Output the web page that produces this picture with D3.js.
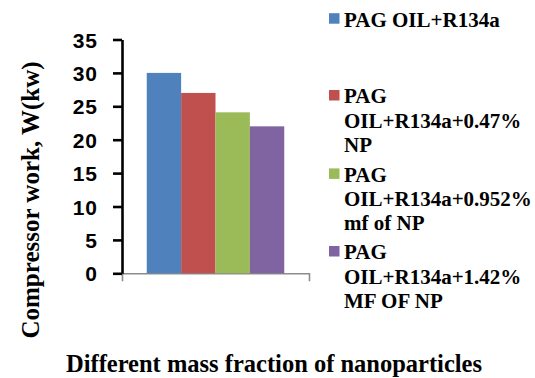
<!DOCTYPE html>
<html>
<head>
<meta charset="utf-8">
<script src="https://cdn.jsdelivr.net/npm/d3@7"></script>
<style>
  html, body { margin: 0; padding: 0; background: #fff; }
  svg { display: block; }
</style>
</head>
<body>
<svg id="chart" width="535" height="378"></svg>
<script>
// Compressor work for each oil / refrigerant / nanoparticle blend
const categories = [""];
const seriesNames = [
  "PAG OIL+R134a",
  "PAG OIL+R134a+0.47% NP",
  "PAG OIL+R134a+0.952% mf of NP",
  "PAG OIL+R134a+1.42% MF OF NP"
];
const seriesValues = [30, 27, 24.1, 22];
const legendLines = [
  ["PAG OIL+R134a"],
  ["PAG", "OIL+R134a+0.47%", "NP"],
  ["PAG", "OIL+R134a+0.952%", "mf of NP"],
  ["PAG", "OIL+R134a+1.42%", "MF OF NP"]
];
const yTicks = [0, 5, 10, 15, 20, 25, 30, 35];
const colors = ["#4F81BD", "#C0504D", "#9BBB59", "#8064A2"];

const SERIF = "Liberation Serif";
const SANS = "Liberation Sans";

const svg = d3.select("#chart");

const plot = { left: 122, right: 309, top: 39.5, bottom: 273.3 };

const y = d3.scaleLinear().domain([0, 35]).range([plot.bottom, plot.top]);
const x0 = d3.scaleBand().domain(categories).range([plot.left, plot.right]).padding(0);
const x1 = d3.scaleBand().domain(seriesNames).range([0, x0.bandwidth()])
  .paddingInner(0).paddingOuter(0.72);

// category axis (grey, with end ticks)
const xAxis = svg.append("g")
  .attr("transform", `translate(0,${plot.bottom})`)
  .call(d3.axisBottom(x0).tickValues([]).tickSizeOuter(8));
xAxis.select(".domain").attr("stroke", "#8c8c8c").attr("stroke-width", 1.6);

// bars
svg.append("g")
  .selectAll("g")
  .data(categories)
  .join("g")
  .attr("transform", d => `translate(${x0(d)},0)`)
  .selectAll("rect")
  .data(() => seriesNames.map((s, i) => ({ s, v: seriesValues[i], c: colors[i] })))
  .join("rect")
  .attr("x", d => x1(d.s))
  .attr("width", x1.bandwidth())
  .attr("y", d => y(d.v))
  .attr("height", d => y(0) - y(d.v))
  .attr("fill", d => d.c);

// value axis
const yAxis = svg.append("g")
  .attr("transform", `translate(${plot.left},0)`)
  .call(d3.axisLeft(y).tickValues(yTicks).tickSize(9).tickSizeOuter(0).tickPadding(15));
yAxis.attr("font-family", SANS).attr("font-size", 21).attr("font-weight", "bold");
yAxis.select(".domain").attr("stroke", "#000").attr("stroke-width", 2.6);
yAxis.selectAll(".tick line").attr("stroke", "#000").attr("stroke-width", 2.6);
yAxis.selectAll(".tick text")
  .attr("fill", "#000")
  .attr("letter-spacing", 1)
  .attr("dy", "0.36em");

// axis titles
svg.append("text")
  .attr("transform", "translate(39,200) rotate(-90)")
  .attr("text-anchor", "middle")
  .attr("font-family", SERIF)
  .attr("font-weight", "bold")
  .attr("font-size", 25)
  .text("Compressor work, W(kw)");

svg.append("text")
  .attr("x", 274)
  .attr("y", 371.5)
  .attr("text-anchor", "middle")
  .attr("font-family", SERIF)
  .attr("font-weight", "bold")
  .attr("font-size", 24.5)
  .text("Different mass fraction of nanoparticles");

// legend
const legendBaselines = [26.5, 103.3, 181.7, 259.3];
const lineGap = 24.2;
const legend = svg.append("g");
legendLines.forEach((lines, i) => {
  const g = legend.append("g");
  g.append("rect")
    .attr("x", 329)
    .attr("y", legendBaselines[i] - 13.3)
    .attr("width", 10.5)
    .attr("height", 10.5)
    .attr("fill", colors[i]);
  const t = g.append("text")
    .attr("x", 344)
    .attr("y", legendBaselines[i])
    .attr("font-family", SERIF)
    .attr("font-weight", "bold")
    .attr("font-size", 21);
  lines.forEach((ln, k) => {
    t.append("tspan")
      .attr("x", 344)
      .attr("y", legendBaselines[i] + k * lineGap)
      .text(ln);
  });
});
</script>
</body>
</html>
